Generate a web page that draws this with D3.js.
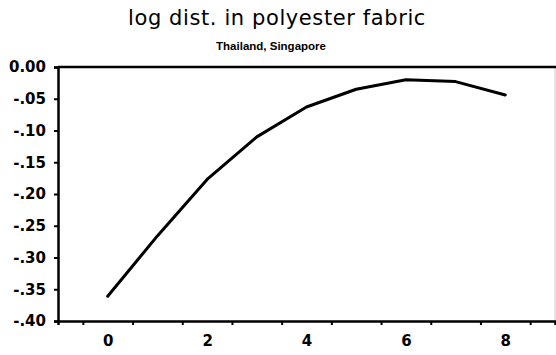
<!DOCTYPE html>
<html>
<head>
<meta charset="utf-8">
<script src="https://cdn.jsdelivr.net/npm/d3@7"></script>
<style>
  html, body { margin: 0; padding: 0; background: #fff; }
  svg { display: block; }
  text { font-family: "DejaVu Sans", "Liberation Sans", sans-serif; fill: #000; }
</style>
</head>
<body>
<svg id="chart" width="556" height="355"></svg>
<script>
// Horizon (periods) and the log distance estimates
const periods = [0, 1, 2, 3, 4, 5, 6, 7, 8];
const logDist = [-0.361, -0.266, -0.177, -0.110, -0.063, -0.035, -0.020, -0.023, -0.044];

// Axis ticks
const yTicks = [0, -0.05, -0.10, -0.15, -0.20, -0.25, -0.30, -0.35, -0.40];
const yTickLabels = ["0.00", "-.05", "-.10", "-.15", "-.20", "-.25", "-.30", "-.35", "-.40"];
const xLabelTicks = [0, 2, 4, 6, 8];
const xMarkTicks = [-0.5, 0.5, 1.5, 2.5, 3.5, 4.5, 5.5, 6.5, 7.5, 8.5];

const titleText = "log dist. in polyester fabric";
const subtitleText = "Thailand, Singapore";

const svg = d3.select("#chart");
const plotLeft = 58, plotRight = 555, plotTop = 67, plotBottom = 321;

const x = d3.scaleLinear().domain([-1, 9]).range([plotLeft, plotRight]);
const y = d3.scaleLinear().domain([-0.4, 0]).range([plotBottom, plotTop]);

// Titles
svg.append("text")
  .attr("x", 277).attr("y", 25)
  .attr("text-anchor", "middle")
  .style("font-size", "21px")
  .style("letter-spacing", "0.6px")
  .text(titleText);

svg.append("text")
  .attr("x", 271).attr("y", 50)
  .attr("text-anchor", "middle")
  .style("font-family", "'Liberation Sans', sans-serif")
  .style("font-size", "11.5px")
  .style("font-weight", "bold")
  .text(subtitleText);

// Frame: faint right edge, heavy top line
svg.append("line")
  .attr("x1", plotRight).attr("x2", plotRight).attr("y1", plotTop).attr("y2", plotBottom)
  .attr("stroke", "#ccc").attr("stroke-width", 1);
svg.append("line")
  .attr("x1", plotLeft).attr("x2", plotRight + 1).attr("y1", plotTop).attr("y2", plotTop)
  .attr("stroke", "#000").attr("stroke-width", 2.5);

// Left axis
const yAxis = d3.axisLeft(y)
  .tickValues(yTicks)
  .tickSize(4)
  .tickPadding(8)
  .tickFormat((d, i) => yTickLabels[i]);
const gy = svg.append("g").attr("transform", `translate(${plotLeft},0)`).call(yAxis);
gy.select(".domain").attr("stroke", "#000").attr("stroke-width", 2.5);
gy.selectAll(".tick line").attr("stroke", "#000").attr("stroke-width", 2);
gy.selectAll(".tick text")
  .style("font-family", "'DejaVu Sans', sans-serif")
  .style("font-size", "15px")
  .style("font-weight", "bold")
  .attr("fill", "#000");

// Bottom axis: tick marks between periods, labels on even periods
const xAxisMarks = d3.axisBottom(x)
  .tickValues(xMarkTicks)
  .tickSize(4)
  .tickFormat("");
const gx = svg.append("g").attr("transform", `translate(0,${plotBottom})`).call(xAxisMarks);
gx.select(".domain").attr("stroke", "#000").attr("stroke-width", 2.5);
gx.selectAll(".tick line").attr("stroke", "#000").attr("stroke-width", 2);

const xAxisLabels = d3.axisBottom(x)
  .tickValues(xLabelTicks)
  .tickSize(0)
  .tickPadding(14)
  .tickFormat(d3.format("d"));
const gxl = svg.append("g").attr("transform", `translate(0,${plotBottom})`).call(xAxisLabels);
gxl.select(".domain").remove();
gxl.selectAll(".tick text")
  .style("font-family", "'DejaVu Sans', sans-serif")
  .style("font-size", "15px")
  .style("font-weight", "bold")
  .attr("fill", "#000");

// Series line
const line = d3.line()
  .x((d, i) => x(periods[i]))
  .y(d => y(d));

svg.append("path")
  .datum(logDist)
  .attr("fill", "none")
  .attr("stroke", "#000")
  .attr("stroke-width", 3)
  .attr("stroke-linejoin", "round")
  .attr("stroke-linecap", "round")
  .attr("d", line);
</script>
</body>
</html>
